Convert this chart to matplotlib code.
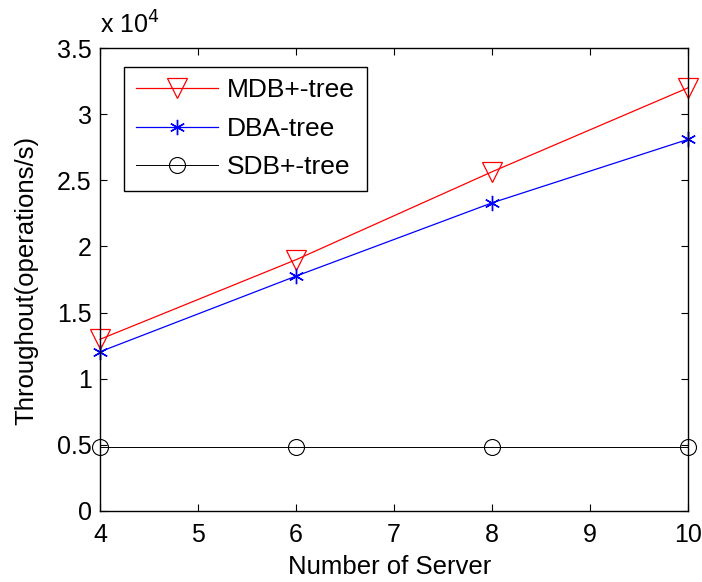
import matplotlib
matplotlib.use("Agg")
from matplotlib import pyplot as plt
from matplotlib.ticker import FuncFormatter, MultipleLocator

servers = [4, 6, 8, 10]
mdb_tree = [12980, 19000, 25650, 32000]
dba_tree = [12040, 17760, 23300, 28100]
sdb_tree = [4810, 4810, 4810, 4810]
labels = ["MDB+-tree", "DBA-tree", "SDB+-tree"]

plt.rcParams['font.family'] = ['Liberation Sans', 'DejaVu Sans']

def data_plot():
    fig = plt.figure(figsize=(7.02, 5.82), dpi=100)
    ax = fig.add_axes([0.1425, 0.122, 0.838, 0.7955])

    ax.plot(servers, mdb_tree, color='red', lw=0.9, marker='v', ms=14,
            mfc='none', mec='red', mew=0.9, label=labels[0], clip_on=False)
    ax.plot(servers, dba_tree, color='blue', lw=0.9, marker=(6, 2, 0), ms=11,
            mec='blue', mew=1.0, label=labels[1], clip_on=False)
    ax.plot(servers, sdb_tree, color='black', lw=0.7, marker='o', ms=11.5,
            mfc='none', mec='black', mew=0.8, label=labels[2], clip_on=False)

    ax.set_xlim(4, 10)
    ax.set_ylim(0, 35000)
    ax.yaxis.set_major_locator(MultipleLocator(5000))
    ax.yaxis.set_major_formatter(FuncFormatter(lambda v, p: "%g" % (v / 1e4)))
    ax.tick_params(direction='in', length=5, width=0.8, labelsize=18,
                   top=True, right=True)
    ax.tick_params(axis='x', pad=9)
    ax.tick_params(axis='y', pad=6)
    for s in ax.spines.values():
        s.set_linewidth(1.0)

    ax.text(0.0, 1.02, r"x 10$^{4}$", transform=ax.transAxes, fontsize=18,
            ha='left', va='bottom')
    ax.set_xlabel("Number of Server", fontsize=18.5)
    ax.set_ylabel("Throughout(operations/s)", fontsize=18.5)
    ax.xaxis.set_label_coords(0.493, -0.095)
    ax.yaxis.set_label_coords(-0.105, 0.497)

    leg = ax.legend(loc='upper left', bbox_to_anchor=(0.041, 0.96), fontsize=19,
                    fancybox=False, edgecolor='black', framealpha=1,
                    borderaxespad=0, handlelength=3.1, labelspacing=0.55,
                    borderpad=0.45, handletextpad=0.35)
    leg.get_frame().set_linewidth(1.0)

    fig.savefig("out.png", dpi=100)
    return ax

if __name__ == '__main__':
    data_plot()
